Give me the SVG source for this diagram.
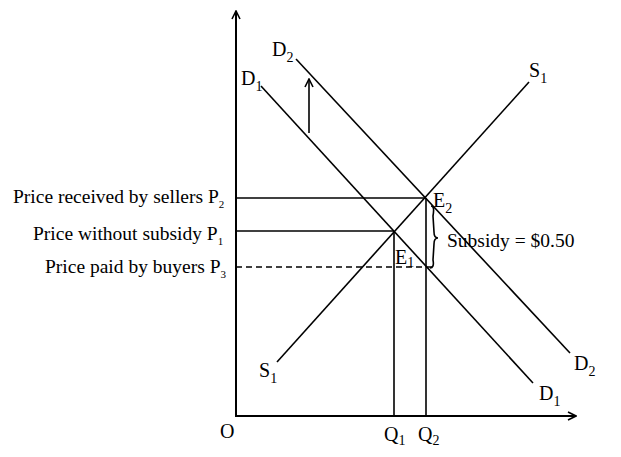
<svg xmlns="http://www.w3.org/2000/svg" width="621" height="457" viewBox="0 0 621 457">
<defs>
<marker id="arr" viewBox="0 0 10 10" refX="9" refY="5" markerWidth="10" markerHeight="10" markerUnits="userSpaceOnUse" orient="auto">
<path d="M1,1 L9,5 L1,9" fill="none" stroke="#000" stroke-width="1.6"/>
</marker>
<style>
.ln{stroke:#000;stroke-width:1.6;fill:none}
.ax{stroke:#000;stroke-width:2;fill:none}
.dash{stroke:#000;stroke-width:1.6;fill:none;stroke-dasharray:6,4}
text{font-family:"Liberation Serif","Times New Roman",serif;font-size:19.5px;fill:#000}
.lab{font-size:20px}
.sub{font-size:11px}
.lsub{font-size:14px}
</style>
</defs>
<rect width="621" height="457" fill="#fff"/>
<g id="connectors">
<line id="yaxis" class="ax" x1="236" y1="416" x2="236" y2="11" marker-end="url(#arr)"/>
<line id="xaxis" class="ax" x1="235" y1="416" x2="576" y2="416" marker-end="url(#arr)"/>
<line id="d1" class="ln" x1="261" y1="86" x2="533" y2="383"/>
<line id="d2" class="ln" x1="296" y1="59" x2="570" y2="353"/>
<line id="s1" class="ln" x1="277" y1="362" x2="529" y2="82"/>
<line id="shift" class="ln" x1="309" y1="133" x2="309" y2="79" marker-end="url(#arr)"/>
<line id="p2" class="ln" x1="236" y1="198" x2="425" y2="198"/>
<line id="p1" class="ln" x1="236" y1="231" x2="393" y2="231"/>
<line id="p3" class="dash" x1="236" y1="267" x2="432" y2="267"/>
<line id="q1" class="ln" x1="394" y1="231" x2="394" y2="416"/>
<line id="q2" class="ln" x1="426" y1="198" x2="426" y2="416"/>
<path id="brace" class="ln" stroke-width="1.3" d="M431,206 C434,206 434,210 433,216 L434,232 C434,236 435,238 438,238 C435,238 434,240 434,244 L433,260 C434,265 433,268 430,268"/>
</g>
<g id="labels">
<text x="13" y="203">Price received by sellers P<tspan class="sub" dy="5">2</tspan></text>
<text x="33" y="240">Price without subsidy P<tspan class="sub" dy="5">1</tspan></text>
<text x="45" y="273">Price paid by buyers P<tspan class="sub" dy="5">3</tspan></text>
<text class="lab" x="272" y="56">D<tspan class="lsub" dy="6">2</tspan></text>
<text class="lab" x="241" y="85">D<tspan class="lsub" dy="6">1</tspan></text>
<text class="lab" x="529" y="77">S<tspan class="lsub" dy="6">1</tspan></text>
<text class="lab" x="259" y="377">S<tspan class="lsub" dy="6">1</tspan></text>
<text class="lab" x="574" y="370">D<tspan class="lsub" dy="6">2</tspan></text>
<text class="lab" x="539" y="400">D<tspan class="lsub" dy="6">1</tspan></text>
<text class="lab" x="433" y="207">E<tspan class="lsub" dy="6">2</tspan></text>
<text class="lab" x="395" y="264">E<tspan class="lsub" dy="3">1</tspan></text>
<text x="447" y="247">Subsidy = $0.50</text>
<text class="lab" x="220" y="438">O</text>
<text class="lab" x="384" y="441">Q<tspan class="lsub" dy="4">1</tspan></text>
<text class="lab" x="418" y="441">Q<tspan class="lsub" dy="4">2</tspan></text>
</g>
</svg>
